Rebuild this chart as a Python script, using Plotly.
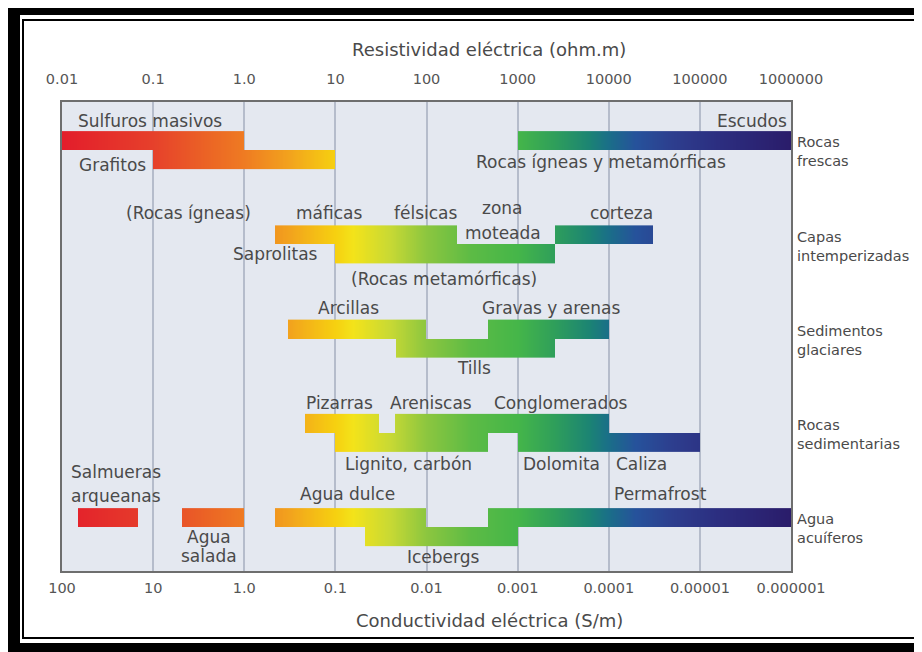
import numpy as np
import plotly.graph_objects as go

# ---------------- data ----------------
# resistivity decades (ohm.m) -> top axis ; conductivity (S/m) -> bottom axis
res_ticks = ["0.01", "0.1", "1.0", "10", "100", "1000", "10000", "100000", "1000000"]
cond_ticks = ["100", "10", "1.0", "0.1", "0.01", "0.001", "0.0001", "0.00001", "0.000001"]
decades = [-2, -1, 0, 1, 2, 3, 4, 5, 6]

grupos = [["Rocas", "frescas"], ["Capas", "intemperizadas"], ["Sedimentos", "glaciares"],
          ["Rocas", "sedimentarias"], ["Agua", "acuíferos"]]

# resistivity ranges (ohm.m) of every bar segment; nivel 0 = upper, 1 = lower
seg_grupo = [0, 0, 0,
             1, 1, 1,
             2, 2, 2,
             3, 3, 3, 3,
             4, 4, 4, 4, 4]
seg_nivel = [0, 1, 0,
             0, 1, 0,
             0, 1, 0,
             0, 0, 1, 1,
             0, 0, 0, 1, 0]
seg_rmin = [0.01, 0.1, 1000,
            2.2, 10, 2600,
            3, 47, 470,
            4.7, 45, 10, 1000,
            0.015, 0.21, 2.2, 21, 480]
seg_rmax = [1.0, 10, 1e6,
            220, 2600, 31000,
            100, 2600, 10000,
            30, 10000, 470, 1e5,
            0.068, 1.0, 100, 1000, 1e6]

# ---------------- styling ----------------
FONT = "DejaVu Sans"
TXT = "#4a4a4a"
colorscale = [
    [0.0, "#e31d2b"], [0.125, "#e6402b"], [0.2125, "#ec6a24"], [0.25, "#ef7b22"],
    [0.3125, "#f2a31d"], [0.375, "#f6d010"], [0.4, "#f3e31a"], [0.45, "#c8d934"],
    [0.5, "#8cc63f"], [0.5625, "#5cbb45"], [0.625, "#45b649"], [0.675, "#2f9f5a"],
    [0.725, "#1b8374"], [0.75, "#1a6e88"], [0.7875, "#26529b"], [0.8375, "#2d3e8e"],
    [0.9, "#2c2e80"], [1.0, "#2a1c6a"]]

H = 0.2  # bar thickness in group units
xe = np.linspace(-2, 6, 801)
xc = 0.5 * (xe[:-1] + xe[1:])

fig = go.Figure()
for g in range(len(grupos)):
    z = np.full((2, len(xc)), np.nan)
    for gg, lv, a, b in zip(seg_grupo, seg_nivel, seg_rmin, seg_rmax):
        if gg != g:
            continue
        m = (xc >= np.log10(a)) & (xc <= np.log10(b))
        z[lv, m] = xc[m]
    zl = [[None if np.isnan(v) else float(v) for v in row] for row in z]
    fig.add_trace(go.Heatmap(
        x=xe, y=[g - H, g, g + H], z=zl, zmin=-2, zmax=6,
        colorscale=colorscale, showscale=False, hoverinfo="skip", zsmooth=False))

# dummy trace to activate the top axis
fig.add_trace(go.Scatter(x=[-2, 6], y=[-0.5, -0.5], xaxis="x2", mode="markers",
                         marker=dict(opacity=0), hoverinfo="skip", showlegend=False))

# ---------------- labels ----------------
labels = [
    ("Sulfuros masivos", -1.033, -0.308),
    ("Grafitos", -1.451, 0.159),
    ("Rocas ígneas y metamórficas", 3.912, 0.127),
    ("(Rocas ígneas)", -0.615, 0.668),
    ("máficas", 0.934, 0.668),
    ("félsicas", 1.989, 0.668),
    ("zona", 2.835, 0.615),
    ("moteada", 2.835, 0.881),
    ("corteza", 4.143, 0.668),
    ("Saprolitas", 0.341, 1.103),
    ("(Rocas metamórficas)", 2.187, 1.369),
    ("Arcillas", 1.143, 1.676),
    ("Gravas y arenas", 3.363, 1.676),
    ("Tills", 2.516, 2.313),
    ("Pizarras", 1.044, 2.684),
    ("Areniscas", 2.044, 2.684),
    ("Conglomerados", 3.473, 2.684),
    ("Lignito, carbón", 1.802, 3.332),
    ("Dolomita", 3.484, 3.332),
    ("Caliza", 4.363, 3.332),
    ("Salmueras", -1.407, 3.416),
    ("arqueanas", -1.407, 3.671),
    ("Agua dulce", 1.132, 3.650),
    ("Agua", -0.385, 4.106),
    ("salada", -0.385, 4.308),
    ("Icebergs", 2.187, 4.318),
    ("Permafrost", 4.571, 3.650),
]
ann = []
for t, x, y in labels:
    ann.append(dict(text=t, x=x, y=y, xref="x", yref="y", showarrow=False,
                    xanchor="center", yanchor="middle",
                    font=dict(family=FONT, size=17, color=TXT)))
ann.append(dict(text="Escudos", x=5.98, y=-0.308, xref="x", yref="y", showarrow=False,
                xanchor="right", yanchor="middle", font=dict(family=FONT, size=17, color=TXT)))
for g, (l1, l2) in enumerate(grupos):
    ann.append(dict(text=l1 + "<br>" + l2, x=1.005, y=g + 0.02, xref="paper", yref="y",
                    showarrow=False, xanchor="left", yanchor="middle", align="left",
                    font=dict(family=FONT, size=14.5, color=TXT)))
ann.append(dict(text="Resistividad eléctrica (ohm.m)", x=0.586, y=1.111, xref="paper", yref="paper",
                showarrow=False, xanchor="center", yanchor="middle",
                font=dict(family=FONT, size=18, color=TXT)))
ann.append(dict(text="Conductividad eléctrica (S/m)", x=0.586, y=-0.1066, xref="paper", yref="paper",
                showarrow=False, xanchor="center", yanchor="middle",
                font=dict(family=FONT, size=18, color=TXT)))

# ---------------- frame (screen pixel -> paper fraction) ----------------
def px(v):
    return (v - 62) / 729.0

def py(v):
    return (571 - v) / 469.0

shapes = [
    dict(type="rect", xref="paper", yref="paper", x0=px(8), x1=px(940), y0=py(5), y1=py(670),
         fillcolor="black", line=dict(width=0), layer="below"),
    dict(type="rect", xref="paper", yref="paper", x0=px(20), x1=px(919), y0=py(15), y1=py(643),
         fillcolor="white", line=dict(width=0), layer="below"),
    dict(type="rect", xref="paper", yref="paper", x0=px(23), x1=px(917), y0=py(20), y1=py(638),
         fillcolor="white", line=dict(width=2, color="black"), layer="below"),
    dict(type="rect", xref="paper", yref="paper", x0=0, x1=1, y0=0, y1=1,
         fillcolor="#e4e8f0", line=dict(width=0), layer="below"),
]

axis_common = dict(range=[-2, 6], tickvals=decades, showline=True, linecolor="#6e6e6e",
                   linewidth=2, zeroline=False, ticks="",
                   tickfont=dict(family=FONT, size=14.5, color="#555555"))
fig.update_layout(
    width=914, height=644, autosize=False,
    margin=dict(l=54, r=131, t=94, b=81, pad=0),
    paper_bgcolor="white", plot_bgcolor="rgba(0,0,0,0)",
    showlegend=False,
    xaxis=dict(**axis_common, ticktext=cond_ticks, side="bottom", showgrid=True,
               gridcolor="#b5bccb", gridwidth=1.5, ticklabelstandoff=3),
    xaxis2=dict(**axis_common, ticktext=res_ticks, side="top", overlaying="x",
                showgrid=False, ticklabelstandoff=10),
    yaxis=dict(range=[4.467, -0.509], showgrid=False, showticklabels=False, zeroline=False,
               showline=True, mirror=True, linecolor="#6e6e6e", linewidth=2, ticks=""),
    annotations=ann, shapes=shapes,
)

fig.write_html("out.html")
